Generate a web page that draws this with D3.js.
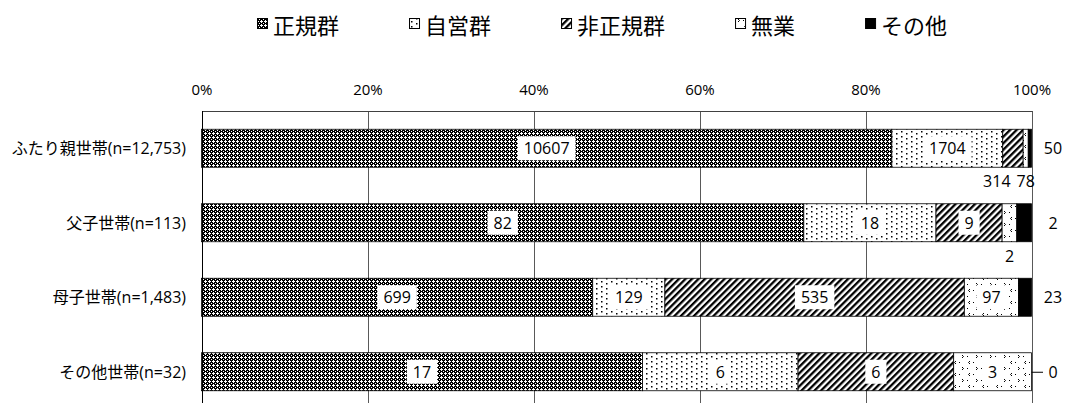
<!DOCTYPE html>
<html><head><meta charset="utf-8">
<script src="https://cdn.jsdelivr.net/npm/d3@7"></script>
<style>
html,body{margin:0;padding:0;background:#fff;}
svg{display:block;font-family:"Open Sans","Noto Sans CJK JP",sans-serif;}
</style></head>
<body><svg id="chart" width="1067" height="403"></svg>
<script>
const categories = ["ふたり親世帯(n=12,753)", "父子世帯(n=113)", "母子世帯(n=1,483)", "その他世帯(n=32)"];
const seriesNames = ["正規群", "自営群", "非正規群", "無業", "その他"];
const seiki   = [10607, 82, 699, 17];
const jiei    = [1704, 18, 129, 6];
const hiseiki = [314, 9, 535, 6];
const mugyo   = [78, 2, 97, 3];
const sonota  = [50, 2, 23, 0];
const tickValues = [0, 0.2, 0.4, 0.6, 0.8, 1.0];
const tickLabels = ["0%", "20%", "40%", "60%", "80%", "100%"];

const seriesValues = [seiki, jiei, hiseiki, mugyo, sonota];
const table = categories.map((c, i) => {
  const row = {cat: c};
  seriesNames.forEach((s, k) => row[s] = seriesValues[k][i]);
  return row;
});

const svg = d3.select("#chart");
const defs = svg.append("defs");

// patterns
const p1 = defs.append("pattern").attr("id", "pat0").attr("patternUnits", "userSpaceOnUse").attr("width", 4).attr("height", 4);
p1.append("rect").attr("width", 4).attr("height", 4).attr("fill", "#000");
[[1,0,1,3],[0,1,3,1],[3,3,1,1]].forEach(r => p1.append("rect").attr("x", r[0]).attr("y", r[1]).attr("width", r[2]).attr("height", r[3]).attr("fill", "#fff"));

const p2 = defs.append("pattern").attr("id", "pat1").attr("patternUnits", "userSpaceOnUse").attr("width", 10).attr("height", 10);
p2.append("rect").attr("width", 10).attr("height", 10).attr("fill", "#fff");
[[1,1],[1,6],[6,3],[6,8]].forEach(d => p2.append("rect").attr("x", d[0]).attr("y", d[1]).attr("width", 1.5).attr("height", 1.5).attr("fill", "#000"));

const p3 = defs.append("pattern").attr("id", "pat2").attr("patternUnits", "userSpaceOnUse").attr("width", 4.6).attr("height", 10).attr("patternTransform", "rotate(45)");
p3.append("rect").attr("width", 4.6).attr("height", 10).attr("fill", "#fff");
p3.append("rect").attr("width", 2.3).attr("height", 10).attr("fill", "#000");

const p4 = defs.append("pattern").attr("id", "pat3").attr("patternUnits", "userSpaceOnUse").attr("width", 14).attr("height", 12);
p4.append("rect").attr("width", 14).attr("height", 12).attr("fill", "#fff");
p4.append("path").attr("d", "M4,1 L2.5,2.5 L4,4 M10,7 L11.5,8.5 L10,10").attr("stroke", "#000").attr("stroke-width", 1).attr("fill", "none");
p4.append("rect").attr("x", 7).attr("y", 2).attr("width", 1).attr("height", 1).attr("fill", "#000");
p4.append("rect").attr("x", 1).attr("y", 8).attr("width", 1).attr("height", 1).attr("fill", "#000");

const fills = ["url(#pat0)", "url(#pat1)", "url(#pat2)", "url(#pat3)", "#000"];

const x = d3.scaleLinear().domain([0, 1]).range([201.5, 1031.5]);
const y = d3.scaleBand().domain(categories).range([111, 409]).paddingInner(0.49).paddingOuter(0.245);

// gridlines
svg.append("g").selectAll("line").data(tickValues.slice(1)).join("line")
  .attr("x1", d => Math.round(x(d)) + 0.5).attr("x2", d => Math.round(x(d)) + 0.5)
  .attr("y1", 111).attr("y2", 410)
  .attr("stroke", "#595959").attr("stroke-width", 1);
svg.append("line").attr("x1", Math.round(x(0)) + 0.5).attr("x2", Math.round(x(1)) + 0.5)
  .attr("y1", 111.5).attr("y2", 111.5).attr("stroke", "#404040");

// top axis labels
const axis = d3.axisTop(x).tickValues(tickValues).tickFormat((d, i) => tickLabels[i]).tickSize(0).tickPadding(16);
const ag = svg.append("g").attr("transform", "translate(0,111)").call(axis);
ag.select(".domain").remove();
ag.selectAll("text").attr("font-size", 15).attr("fill", "#000").attr("font-family", "'Open Sans',sans-serif");

// stacked bars
const stack = d3.stack().keys(seriesNames).offset(d3.stackOffsetExpand);
const stacked = stack(table);

const barG = svg.append("g");
stacked.forEach((layer, k) => {
  barG.append("g").selectAll("rect").data(layer).join("rect")
    .attr("x", d => x(d[0]))
    .attr("width", d => Math.max(0, x(d[1]) - x(d[0])))
    .attr("y", d => y(d.data.cat))
    .attr("height", y.bandwidth())
    .attr("fill", fills[k])
    .attr("stroke", d => (d[1] - d[0]) > 0 ? "#000" : "none")
    .attr("stroke-width", 0.8);
});

// left axis line
svg.append("line").attr("x1", Math.round(x(0)) + 0.5).attr("x2", Math.round(x(0)) + 0.5)
  .attr("y1", 111).attr("y2", 410).attr("stroke", "#000").attr("stroke-width", 1);

// category labels
svg.append("g").selectAll("text").data(categories).join("text")
  .attr("x", 186).attr("y", d => y(d) + y.bandwidth() / 2)
  .attr("text-anchor", "end").attr("dominant-baseline", "central")
  .attr("font-size", 16).attr("fill", "#000").text(d => d);

// data labels
const lblG = svg.append("g");
categories.forEach((cat, i) => {
  const yc = y(cat) + y.bandwidth() / 2;
  const below = [];
  stacked.forEach((layer, k) => {
    const d = layer[i];
    const val = table[i][seriesNames[k]];
    const x0 = x(d[0]), x1 = x(d[1]);
    const segW = x1 - x0;
    if (k === seriesNames.length - 1) {
      lblG.append("text").attr("x", 1053).attr("y", yc)
        .attr("text-anchor", "middle").attr("dominant-baseline", "central")
        .attr("font-size", 16).attr("fill", "#000").text(val);
      if (val === 0) {
        lblG.append("line").attr("x1", x1).attr("x2", 1043).attr("y1", yc + 0.5).attr("y2", yc + 0.5)
          .attr("stroke", "#000").attr("stroke-width", 1);
      }
      return;
    }
    const g = lblG.append("g");
    const rect = g.append("rect").attr("fill", "#fff");
    const t = g.append("text").attr("text-anchor", "middle").attr("dominant-baseline", "central")
      .attr("font-size", 16).attr("fill", "#000").text(val);
    const tw = t.node().getComputedTextLength();
    if (segW >= tw + 12) {
      const cx = (x0 + x1) / 2;
      t.attr("x", cx).attr("y", yc);
      rect.attr("x", cx - tw / 2 - 6).attr("y", yc - 12).attr("width", tw + 12).attr("height", 24);
    } else {
      below.push({g, t, rect, cx: (x0 + x1) / 2, tw});
    }
  });
  // place below-bar labels, resolving overlap from right to left
  below.sort((a, b) => b.cx - a.cx);
  let prev = null;
  const yb = y(cat) + y.bandwidth() + 14;
  below.forEach(b => {
    let cx = b.cx;
    if (prev) cx = Math.min(cx, prev.cx - prev.tw / 2 - b.tw / 2 - 6);
    b.cx = cx;
    b.t.attr("x", cx).attr("y", yb);
    b.rect.remove();
    prev = b;
  });
});

// legend
const leg = svg.append("g");
let lx = 257;
seriesNames.forEach((s, k) => {
  leg.append("rect").attr("x", lx + 0.5).attr("y", 18.5).attr("width", 10).attr("height", 10)
    .attr("fill", fills[k]).attr("stroke", "#000").attr("stroke-width", 1);
  const t = leg.append("text").attr("x", lx + 16).attr("y", 24)
    .attr("dominant-baseline", "central").attr("font-size", 22)
    .attr("font-family", "'Noto Sans CJK JP',sans-serif").attr("fill", "#000").text(s);
  lx = lx + 16 + t.node().getComputedTextLength() + 70;
});
</script>
</body></html>
